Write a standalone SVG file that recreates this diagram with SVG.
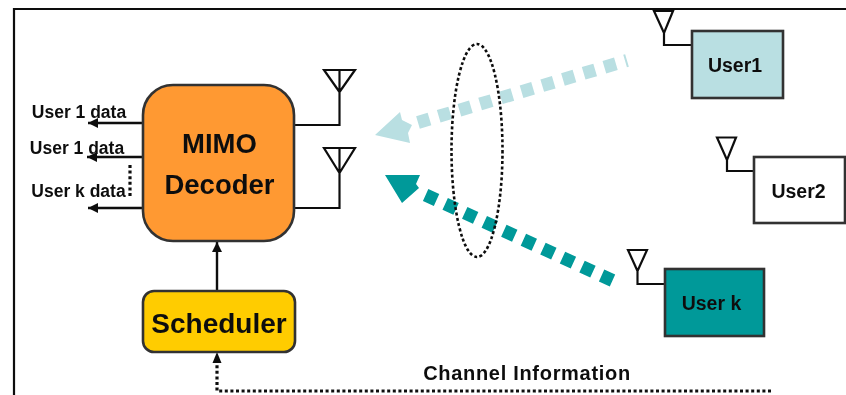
<svg xmlns="http://www.w3.org/2000/svg" width="846" height="395" viewBox="0 0 846 395">
<defs>
<filter id="soft" x="-2%" y="-2%" width="104%" height="104%"><feGaussianBlur stdDeviation="0.6"/></filter>
<marker id="ah" markerUnits="userSpaceOnUse" markerWidth="12" markerHeight="12" refX="10" refY="5" orient="auto"><path d="M0 0L10 5L0 10Z" fill="#111"/></marker>
</defs>
<style>
text{font-family:"Liberation Sans",Arial,sans-serif;font-weight:700;fill:#111;text-anchor:middle}
.l{font-size:17.500px}
.w{fill:none;stroke:#111;stroke-width:2.200}
.b{stroke:#333;stroke-width:2.600}
.ar{fill:none;stroke:#111;stroke-width:2.400;marker-end:url(#ah)}
.d{fill:none;stroke:#111;stroke-width:3.200;stroke-dasharray:3 2.600}
</style>
<rect width="846" height="395" fill="#fff"/>
<g filter="url(#soft)">
<path id="frame" d="M14 395V9H846" class="w"/>
<g id="connectors">
<path class="ar" d="M143 123H88"/>
<path class="ar" d="M143 157H87"/>
<path class="ar" d="M143 208H88"/>
<path class="d" d="M130 165V198"/>
<path class="ar" d="M217 290V242"/>
<path class="d" d="M771 391H217V362"/>
<path d="M217 352L212.500 363H221.500Z" fill="#111"/>
<path d="M627 60.500L411 124.500" fill="none" stroke="#b9dfe2" stroke-width="13" stroke-dasharray="12 9.600" stroke-dashoffset="10"/>
<path d="M375 135L400 112L402 120L412 125L408 133L410 143Z" fill="#b9dfe2"/>
<path d="M612.500 280.500L418 191.500" fill="none" stroke="#009999" stroke-width="13" stroke-dasharray="12 9.500"/>
<path d="M385 175L420 175L416 184L419 188L402 203Z" fill="#009999"/>
</g>
<ellipse id="beam" cx="477" cy="150.500" rx="25.500" ry="106.500" fill="none" stroke="#111" stroke-width="2.600" stroke-dasharray="3 2.400"/>
<g id="antenna-rx1"><path class="w" d="M324 70H355L339.500 92ZM339.500 70V125H294"/></g>
<g id="antenna-rx2"><path class="w" d="M324 148H355L339.500 173ZM339.500 148V208H294"/></g>
<g id="mimo-decoder">
<rect x="143" y="85" width="151" height="156" rx="30" fill="#ff9933" class="b"/>
<text x="219.500" y="153" font-size="27.500">MIMO</text>
<text x="219.500" y="194" font-size="27.500">Decoder</text>
</g>
<g id="scheduler">
<rect x="143" y="291" width="152" height="61" rx="11" fill="#ffcc00" class="b"/>
<text x="219" y="333" font-size="28">Scheduler</text>
</g>
<g id="user1">
<path class="w" d="M654 11H673L664 33ZM664 33V45H692"/>
<rect x="692" y="31" width="91" height="67" fill="#b9dfe2" class="b"/>
<text x="735" y="72" font-size="19.500">User1</text>
</g>
<g id="user2">
<path class="w" d="M717 137.500H736L727 160ZM727 160V171H754"/>
<rect x="754" y="157" width="91" height="66" fill="#fff" class="b"/>
<text x="798.500" y="198" font-size="19.500">User2</text>
</g>
<g id="userk">
<path class="w" d="M628 250H647L637.500 271ZM637.500 271V284H665"/>
<rect x="665" y="269" width="99" height="67" fill="#009999" class="b"/>
<text x="711.500" y="310" font-size="19.500">User k</text>
</g>
<text class="l" x="79" y="118">User 1 data</text>
<text class="l" x="77" y="154">User 1 data</text>
<text class="l" x="78.500" y="197">User k data</text>
<text x="527" y="380" font-size="20" letter-spacing="0.700">Channel Information</text>
</g>
</svg>
